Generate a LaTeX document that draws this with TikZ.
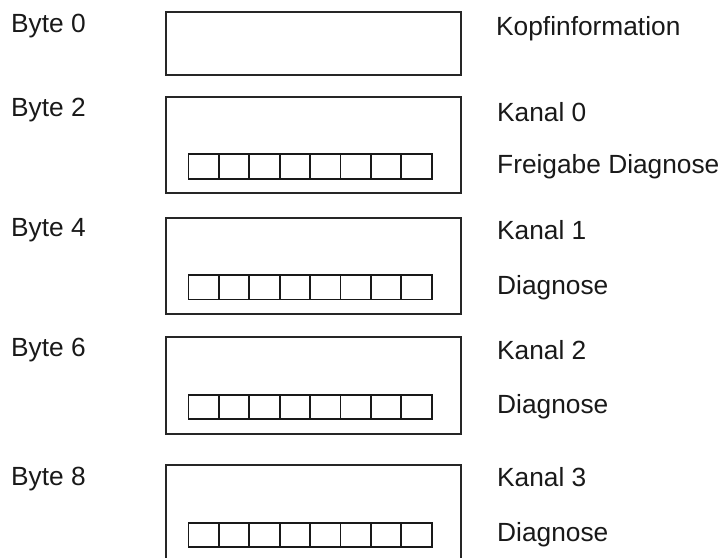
\documentclass[tikz,border=0pt]{standalone}
\usepackage{fontspec}
\setmainfont{Liberation Sans}
\begin{document}
\begin{tikzpicture}[x=1pt,y=-1pt,
  lbl/.style={anchor=base west,inner sep=0pt,font=\fontsize{26.3}{31}\selectfont,text=black!90},
  frame/.style={draw=black!85,line width=1.8pt},
  cell/.style={draw=black!90,line width=1.7pt}]
\useasboundingbox (0,0) rectangle (723,557);
\clip (0,0) rectangle (723,557);
% header block
\draw[frame] (165.7,12.3) rectangle (461,75.3);
\node[lbl] (b0) at (11,32.3) {Byte 0};
\node[lbl] (k) at (496,35) {Kopfinformation};
% channel blocks: top, bottom, cell top, byte-label baseline, channel baseline, second-line baseline, texts
\foreach \top/\bot/\ct/\bb/\kb/\db/\bn/\kn/\dn/\id in {
  97.3/192.7/154.3/116.7/121/173.3/2/0/Freigabe Diagnose/a,
  217.7/313.7/275/236/239.3/294.3/4/1/Diagnose/b,
  336.7/434/394.7/356/359.3/413.7/6/2/Diagnose/c,
  465/600/522.7/485/486.7/541.7/8/3/Diagnose/d}{
  \draw[frame] (165.7,\top) rectangle (461,\bot);
  \foreach \i in {0,...,7}
    \draw[cell] (188.5+\i*30.4,\ct) rectangle (188.5+\i*30.4+30.4,\ct+24.6);
  \node[lbl] (byte\id) at (11,\bb) {Byte \bn};
  \node[lbl] (kanal\id) at (497,\kb) {Kanal \kn};
  \node[lbl] (diag\id) at (497,\db) {\dn};
}
\end{tikzpicture}
\end{document}
